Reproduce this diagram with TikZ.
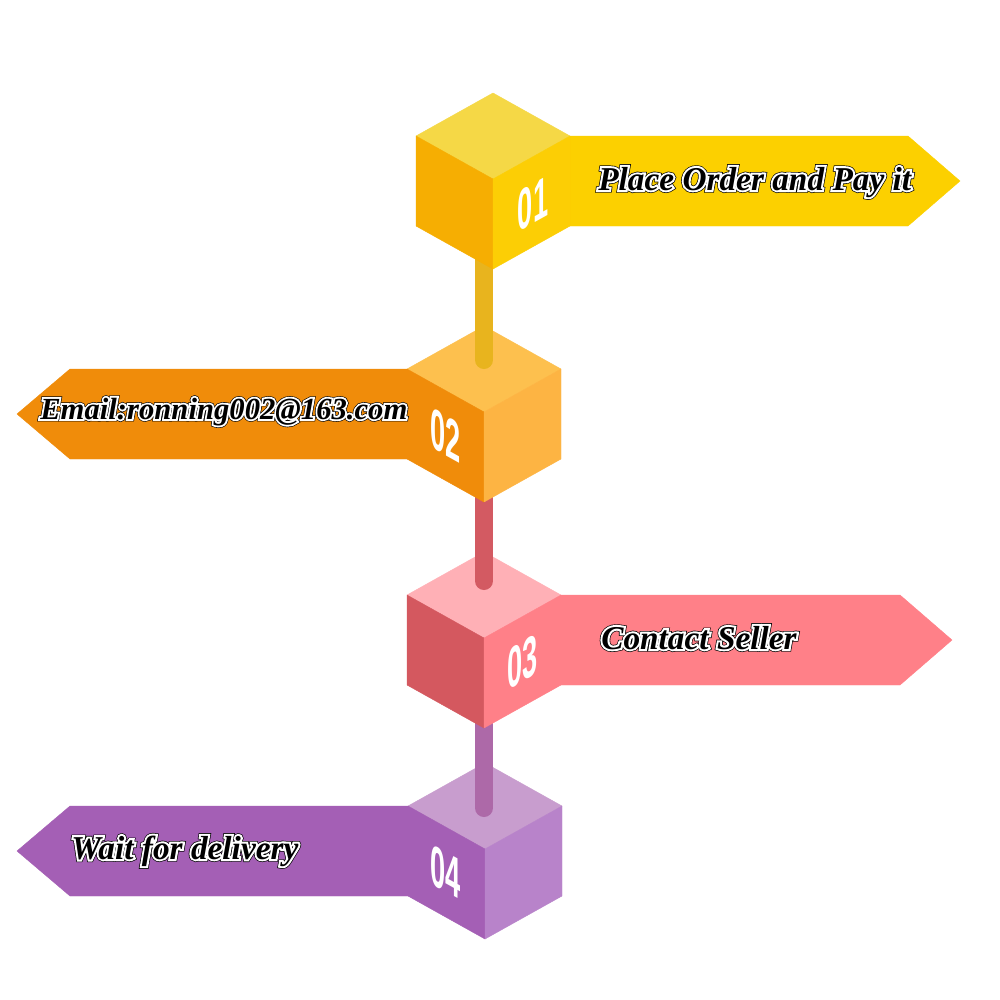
\documentclass[tikz,border=0pt]{standalone}
\usepackage{fontspec}
\setmainfont{Liberation Serif}
\newfontfamily\digitfont{Liberation Sans}
\newfontfamily\outerfont[BoldItalicFeatures={FakeBold=16}]{Liberation Serif}
\newfontfamily\innerfont[BoldItalicFeatures={FakeBold=12}]{Liberation Serif}
\usepackage{tikz}
\usetikzlibrary{calc}
\definecolor{yeltop}{RGB}{245,216,70}
\definecolor{yelleft}{RGB}{246,174,2}
\definecolor{yelright}{RGB}{252,206,5}
\definecolor{yelbanner}{RGB}{252,208,0}
\definecolor{yelpole}{RGB}{232,180,30}
\definecolor{orgtop}{RGB}{253,192,78}
\definecolor{orgleft}{RGB}{240,140,10}
\definecolor{orgright}{RGB}{253,180,67}
\definecolor{redpole}{RGB}{211,90,98}
\definecolor{pinktop}{RGB}{255,176,182}
\definecolor{pinkleft}{RGB}{212,88,95}
\definecolor{pinkright}{RGB}{255,128,136}
\definecolor{purpole}{RGB}{173,105,168}
\definecolor{purtop}{RGB}{200,157,206}
\definecolor{purleft}{RGB}{164,95,181}
\definecolor{purright}{RGB}{184,131,202}
\newcommand{\halo}[1]{\rlap{\outerfont\bfseries\itshape#1}\rlap{\color{white}\innerfont\bfseries\itshape#1}#1}

\begin{document}
\begin{tikzpicture}[x=0.75pt, y=-0.75pt,
  face/.style={fill=#1, draw=#1, line width=0.3pt, line join=round},
  pole/.style={draw=#1, line width=13.5pt, line cap=round},
  captext/.style={font=\fontsize{25}{30}\selectfont\bfseries\itshape, inner sep=0pt, anchor=base west},
  digits/.style={font=\digitfont\fontsize{24}{24}\selectfont\bfseries, text=white, inner sep=0pt, xscale=0.85, yscale=1.8},
]
  \useasboundingbox (0,0) rectangle (1000,1000);
  \fill[white] (0,0) rectangle (1000,1000);

  \coordinate (c1) at (493,93);
  \coordinate (c2) at (484,326);
  \coordinate (c3) at (484,552);
  \coordinate (c4) at (485,763);
  \coordinate (p1s) at (484,200);
  \coordinate (p1e) at (484,360);
  \coordinate (p2s) at (484,430);
  \coordinate (p2e) at (484,581);
  \coordinate (p3s) at (484,650);
  \coordinate (p3e) at (484,808);

  % step 4
  \fill[face=purleft] ($(c4)+(-77,43)$) -- ++(-338,0) -- ++(-53,45) -- ++(53,45) -- ++(338,0) -- cycle;
  \fill[face=purtop] (c4) -- ++(77,43) -- ++(-77,43) -- ++(-77,-43) -- cycle;
  \fill[face=purleft] ($(c4)+(-77,43)$) -- ++(77,43) -- ++(0,90) -- ++(-77,-43) -- cycle;
  \fill[face=purright] ($(c4)+(0,86)$) -- ++(77,-43) -- ++(0,90) -- ++(-77,43) -- cycle;
  \draw[pole=purpole] (p3s) -- (p3e);

  % step 3
  \fill[face=pinkright] ($(c3)+(77,43)$) -- ++(339,0) -- ++(52,45) -- ++(-52,45) -- ++(-339,0) -- cycle;
  \fill[face=pinktop] (c3) -- ++(77,43) -- ++(-77,43) -- ++(-77,-43) -- cycle;
  \fill[face=pinkleft] ($(c3)+(-77,43)$) -- ++(77,43) -- ++(0,90) -- ++(-77,-43) -- cycle;
  \fill[face=pinkright] ($(c3)+(0,86)$) -- ++(77,-43) -- ++(0,90) -- ++(-77,43) -- cycle;
  \draw[pole=redpole] (p2s) -- (p2e);

  % step 2
  \fill[face=orgleft] ($(c2)+(-77,43)$) -- ++(-337,0) -- ++(-53,45) -- ++(53,45) -- ++(337,0) -- cycle;
  \fill[face=orgtop] (c2) -- ++(77,43) -- ++(-77,43) -- ++(-77,-43) -- cycle;
  \fill[face=orgleft] ($(c2)+(-77,43)$) -- ++(77,43) -- ++(0,90) -- ++(-77,-43) -- cycle;
  \fill[face=orgright] ($(c2)+(0,86)$) -- ++(77,-43) -- ++(0,90) -- ++(-77,43) -- cycle;
  \draw[pole=yelpole] (p1s) -- (p1e);

  % step 1
  \fill[face=yelbanner] ($(c1)+(77,43)$) -- ++(338,0) -- ++(52,45) -- ++(-52,45) -- ++(-338,0) -- cycle;
  \fill[face=yeltop] (c1) -- ++(77,43) -- ++(-77,43) -- ++(-77,-43) -- cycle;
  \fill[face=yelleft] ($(c1)+(-77,43)$) -- ++(77,43) -- ++(0,90) -- ++(-77,-43) -- cycle;
  \fill[face=yelright] ($(c1)+(0,86)$) -- ++(77,-43) -- ++(0,90) -- ++(-77,43) -- cycle;

  % numbers on the faces
  \node[yslant=0.558, digits] (n1) at ($(c1)+(40,111)$) {01};
  \node[yslant=-0.558, digits] (n2) at ($(c2)+(-38,109.5)$) {02};
  \node[yslant=0.558, digits] (n3) at ($(c3)+(38.5,110)$) {03};
  \node[yslant=-0.558, digits] (n4) at ($(c4)+(-39,109)$) {04};

  % labels
  \node[captext] (t1) at (598,190) {\halo{Place Order and Pay it}};
  \node[captext, font=\fontsize{23}{28}\selectfont\bfseries\itshape] (t2) at (40,419) {\halo{Email:ronning002@163.com}};
  \node[captext] (t3) at (601,649) {\halo{Contact Seller}};
  \node[captext] (t4) at (71,859) {\halo{Wait for delivery}};
\end{tikzpicture}
\end{document}
